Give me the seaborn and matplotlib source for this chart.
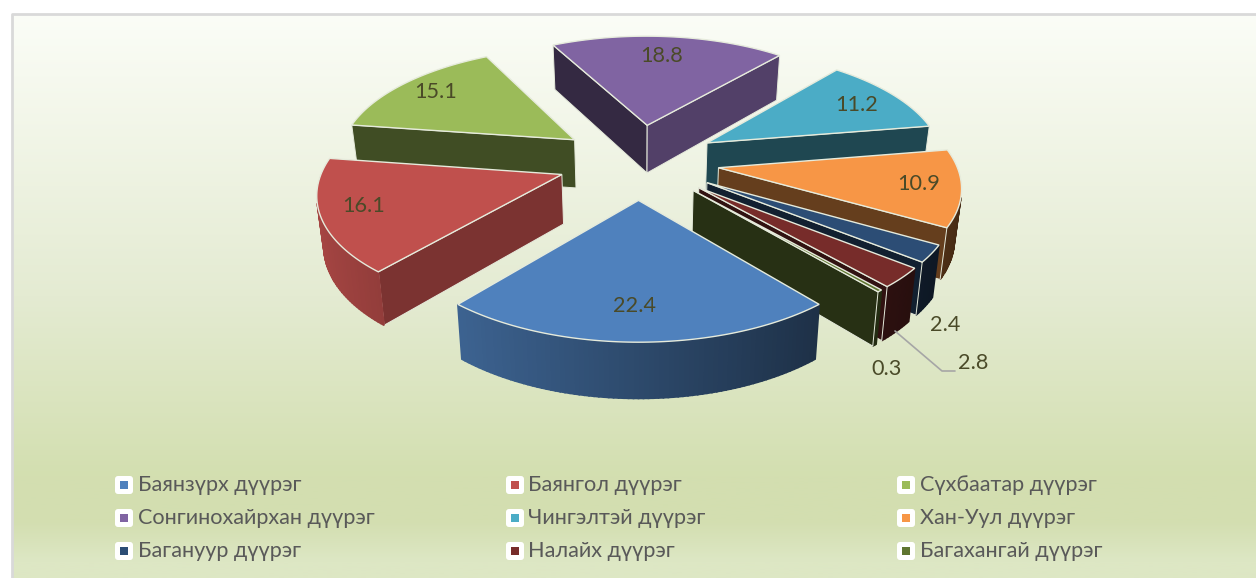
import numpy as np
import seaborn as sns
import matplotlib.pyplot as plt
from matplotlib.patches import Polygon, FancyBboxPatch, Rectangle

districts = ['Баянзүрх дүүрэг', 'Баянгол дүүрэг', 'Сүхбаатар дүүрэг',
             'Сонгинохайрхан дүүрэг', 'Чингэлтэй дүүрэг', 'Хан-Уул дүүрэг',
             'Багануур дүүрэг', 'Налайх дүүрэг', 'Багахангай дүүрэг']
shares = [22.4, 16.1, 15.1, 18.8, 11.2, 10.9, 2.4, 2.8, 0.3]
hex_colors = ['#4F81BD', '#C0504D', '#9BBB59', '#8064A2', '#4BACC6',
              '#F79646', '#2C4D75', '#772C2A', '#5F7530']
label_xy = [(634, 306), (364, 206), (436, 92), (662, 56), (857, 105),
            (919, 184), (945, 325), (973, 363), (887, 369)]

sns.set_theme(style='white')
plt.rcParams['font.family'] = ['Lato', 'Open Sans', 'DejaVu Sans']
colors = np.array(sns.color_palette(hex_colors))

# projection of the exploded disc on the picture, in pixels
CX, CY, A, B, K = 638.5, 161, 237, 110.4, 0.137
EXPLODE, SHRINK = 0.34, 0.978
EDGE = '#E6EBDC'


def project(X, Y):
    w = 1 - K * Y
    return CX + A * X / w, CY + B * Y / w


def lower(pts):
    # walls look taller towards the viewer
    depth = 49 + 0.04 * (pts[:, 1] - CY)
    return np.column_stack([CX + (pts[:, 0] - CX) * SHRINK, pts[:, 1] + depth])


def area(pts):
    x, y = pts[:, 0], pts[:, 1]
    return 0.5 * np.sum(x * np.roll(y, -1) - np.roll(x, -1) * y)


fig = plt.figure(figsize=(12.56, 5.78), dpi=100, facecolor='white')
ax = fig.add_axes([0, 0, 1, 1])

# chart area background
rows = np.linspace(0, 1, 400)
stops = np.array([[251, 253, 247], [228, 235, 210], [211, 223, 176],
                  [211, 222, 176], [221, 231, 196]]) / 255
grad = np.stack([np.interp(rows, [0, 0.5, 0.82, 0.9, 0.97], stops[:, i]) for i in range(3)], axis=1)
ax.imshow(grad[:, None, :], extent=(12, 1256, 578, 14), aspect='auto', zorder=0)
ax.set_xlim(0, 1256)
ax.set_ylim(578, 0)
ax.axis('off')
ax.plot([12, 12, 1256], [578, 14, 14], color='#D9D9D9', lw=2, zorder=1)

# slices, angle counted clockwise on screen from the front of the pie
fracs = np.array(shares) / sum(shares) * 2 * np.pi
starts = -fracs[0] / 2 + np.concatenate([[0], np.cumsum(fracs)[:-1]])
mids = starts + fracs / 2
order = np.argsort(np.cos(mids))

for i in order:
    ox, oy = -np.sin(mids[i]) * EXPLODE, np.cos(mids[i]) * EXPLODE
    t = np.linspace(starts[i], starts[i] + fracs[i], max(int(np.degrees(fracs[i])), 2) + 1)
    sx, sy = project(np.r_[ox, ox - np.sin(t)], np.r_[oy, oy + np.cos(t)])
    top = np.column_stack([sx, sy])
    bot = lower(top)
    sign = np.sign(area(top))
    n = len(top)
    for j in range(n):
        k = (j + 1) % n
        quad = np.array([top[j], top[k], bot[k], bot[j]])
        if np.sign(area(quad)) == sign:
            continue
        if j == 0 or k == 0:
            # flat cut side of the slice
            d = top[k] - top[j]
            nrm = np.array([d[1], -d[0]]) / np.hypot(*d)
            if np.dot(nrm, (top[j] + top[k]) / 2 - top.mean(axis=0)) < 0:
                nrm = -nrm
            shade = 0.64 if nrm[0] > 0.3 else 0.41
            ax.add_patch(Polygon(quad, fc=colors[i] * shade, ec=EDGE, lw=0.7, zorder=3))
        else:
            # rim, darker towards the right
            tm = (t[j - 1] + t[k - 1]) / 2
            c = colors[i] * min(0.57 + 0.3 * np.sin(tm), 1)
            ax.add_patch(Polygon(quad, fc=c, ec=c, lw=1.2, zorder=3))
    ax.add_patch(Polygon(top, fc=colors[i], ec=EDGE, lw=1, zorder=3))

# value labels and the one leader line
ax.plot([895, 942, 955], [331, 371, 371], color='#A6A6A6', lw=1.2, zorder=4)
for (x, y), v in zip(label_xy, shares):
    ax.text(x, y, f'{v:.1f}', fontsize=15.6, color='#4A4A28', ha='center', va='center', zorder=5)

# legend, three columns filled row by row
for n, (name, col) in enumerate(zip(districts, colors)):
    x = 124 + 391 * (n % 3)
    y = 485 + 33 * (n // 3)
    ax.add_patch(FancyBboxPatch((x - 6, y - 6), 12, 12, boxstyle='round,pad=3,rounding_size=3',
                                fc='white', ec='none', zorder=4))
    ax.add_patch(Rectangle((x - 4, y - 4), 8, 8, fc=col, ec='none', zorder=5))
    ax.text(x + 13.5, y, name, fontsize=15.6, color='#595959', ha='left', va='center', zorder=5)

fig.savefig('out.png', dpi=100)
